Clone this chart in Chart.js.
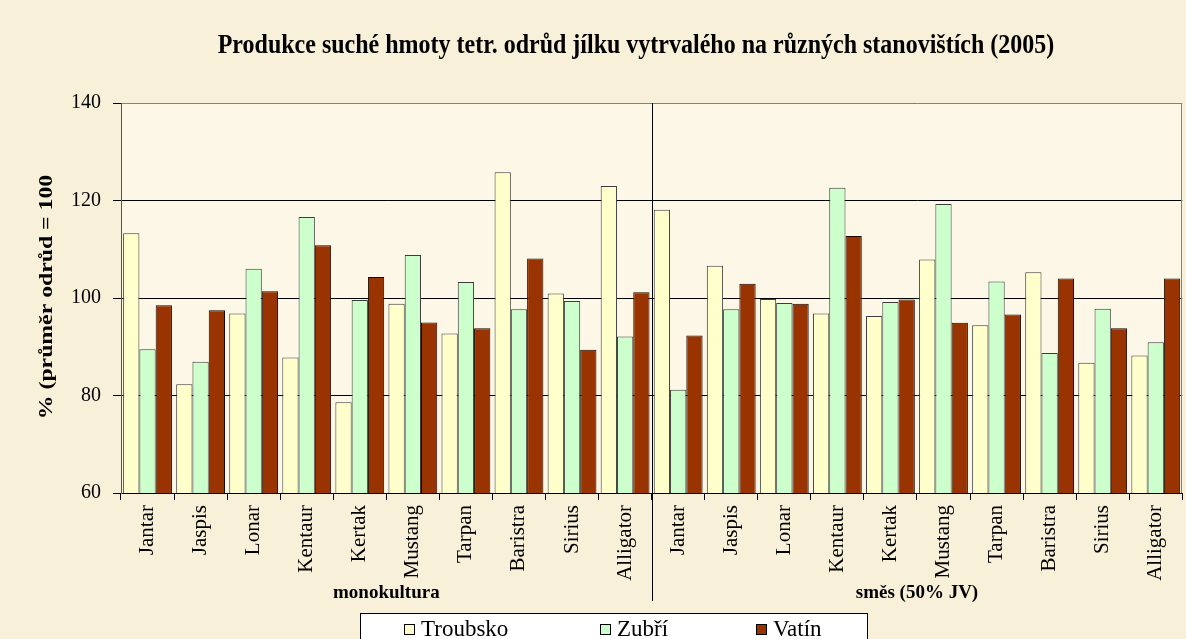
<!DOCTYPE html>
<html>
<head>
<meta charset="utf-8">
<script src="https://cdn.jsdelivr.net/npm/chart.js@4.4.1/dist/chart.umd.min.js"></script>
<style>
  html, body { margin: 0; padding: 0; background: #F8F0D8; }
  #wrap { width: 1186px; height: 639px; position: relative; }
  canvas { display: block; }
</style>
</head>
<body>
<div id="wrap"><canvas id="c" width="1186" height="639"></canvas></div>
<script>
const chartTitle = 'Produkce suché hmoty tetr. odrůd jílku vytrvalého na různých stanovištích (2005)';
const yAxisTitle = '% (průměr odrůd = 100';
const varieties = ['Jantar', 'Jaspis', 'Lonar', 'Kentaur', 'Kertak', 'Mustang', 'Tarpan', 'Baristra', 'Sirius', 'Alligator'];
const groups = ['monokultura', 'směs (50% JV)'];
const categories = varieties.concat(varieties);
const seriesNames = ['Troubsko', 'Zubří', 'Vatín'];
const troubsko = [113.3, 82.3, 96.8, 87.8, 78.6, 98.8, 92.7, 125.8, 100.9, 123.0,
                  118.1, 106.6, 99.8, 96.8, 96.3, 107.9, 94.4, 105.3, 86.7, 88.2];
const zubri    = [89.5, 86.9, 106.0, 116.6, 99.6, 108.8, 103.3, 97.7, 99.4, 92.1,
                  81.2, 97.7, 99.0, 122.6, 99.2, 119.3, 103.4, 88.7, 97.8, 90.9];
const vatin    = [98.5, 97.5, 101.4, 110.8, 104.3, 95.0, 93.8, 108.1, 89.4, 101.2,
                  92.3, 102.9, 98.8, 112.7, 99.7, 94.9, 96.6, 104.0, 93.8, 104.0];
const yTicks = [60, 80, 100, 120, 140];

const fills = ['#FFFFCC', '#CCFFCC', '#993300'];
const borders = ['#3c3c3c', '#3c3c3c', '#1a0800'];
const SERIF = '"Liberation Serif", "Times New Roman", serif';

const decor = {
  id: 'decor',
  beforeDraw(chart) {
    const { ctx, chartArea: a } = chart;
    ctx.save();
    ctx.fillStyle = '#FCF7E6';
    ctx.fillRect(a.left, a.top, a.right - a.left, a.bottom - a.top);
    ctx.restore();
  },
  afterDraw(chart) {
    const { ctx, chartArea: a, scales } = chart;
    const xs = scales.x;
    ctx.save();
    // right border of plot
    ctx.strokeStyle = '#808080';
    ctx.lineWidth = 1;
    ctx.beginPath();
    ctx.moveTo(Math.round(a.right) - 0.5, a.top);
    ctx.lineTo(Math.round(a.right) - 0.5, a.bottom);
    ctx.stroke();
    // group divider
    const half = varieties.length;
    const xd = Math.round((xs.getPixelForValue(half - 1) + xs.getPixelForValue(half)) / 2) + 0.5;
    ctx.strokeStyle = '#000';
    ctx.beginPath();
    ctx.moveTo(xd, a.top);
    ctx.lineTo(xd, 601);
    ctx.stroke();
    // group labels
    ctx.fillStyle = '#000';
    ctx.font = 'bold 19px ' + SERIF;
    ctx.textAlign = 'center';
    ctx.textBaseline = 'middle';
    groups.forEach((g, i) => {
      const c = (xs.getPixelForValue(i * half) + xs.getPixelForValue(i * half + half - 1)) / 2;
      ctx.fillText(g, c, 593);
    });
    // title (slightly tall lettering as in the original)
    ctx.save();
    ctx.translate(636, 46);
    ctx.scale(1, 1.15);
    ctx.font = 'bold 24px ' + SERIF;
    ctx.fillText(chartTitle, 0, 0);
    ctx.restore();
    // y axis title
    ctx.save();
    ctx.translate(47, 297);
    ctx.rotate(-Math.PI / 2);
    ctx.scale(1.25, 1);
    ctx.font = 'bold 19px ' + SERIF;
    ctx.fillText(yAxisTitle, 0, 0);
    ctx.restore();
    // legend
    const lx0 = 360, lx1 = 868, ly0 = 613;
    ctx.fillStyle = '#FFFFFF';
    ctx.fillRect(lx0, ly0, lx1 - lx0, 40);
    ctx.strokeStyle = '#000';
    ctx.strokeRect(lx0 + 0.5, ly0 + 0.5, lx1 - lx0 - 1, 40);
    const itemX = [404, 600, 756];
    ctx.font = '23px ' + SERIF;
    ctx.textAlign = 'left';
    ctx.textBaseline = 'middle';
    chart.data.datasets.forEach((ds, i) => {
      const sx = itemX[i], sy = 624;
      ctx.fillStyle = ds.backgroundColor;
      ctx.fillRect(sx, sy, 11, 11);
      ctx.strokeStyle = '#000';
      ctx.strokeRect(sx + 0.5, sy + 0.5, 10, 10);
      ctx.fillStyle = '#000';
      ctx.fillText(ds.label, sx + 17, sy + 6);
    });
    ctx.restore();
  }
};

new Chart(document.getElementById('c'), {
  type: 'bar',
  data: {
    labels: categories,
    datasets: [troubsko, zubri, vatin].map((d, i) => ({
      label: seriesNames[i],
      data: d,
      backgroundColor: fills[i],
      borderColor: borders[i],
      borderWidth: 1,
      borderSkipped: 'bottom',
      categoryPercentage: 0.92,
      barPercentage: 1.0
    }))
  },
  options: {
    responsive: false,
    devicePixelRatio: 1,
    animation: false,
    layout: { padding: { top: 103, right: 2, bottom: 0, left: 0 } },
    plugins: { legend: { display: false }, title: { display: false }, tooltip: { enabled: false } },
    scales: {
      x: {
        afterFit(s) { s.height = 146; },
        grid: { offset: true, drawOnChartArea: false, drawTicks: true, tickLength: 7, color: '#000' },
        border: { display: true, color: '#000' },
        ticks: {
          autoSkip: false, minRotation: 90, maxRotation: 90, padding: 5,
          color: '#000', font: { family: SERIF, size: 21 }
        }
      },
      y: {
        min: 60, max: 140,
        afterFit(s) { s.width = 121; },
        afterBuildTicks(s) { s.ticks = yTicks.map(v => ({ value: v })); },
        grid: {
          color: (c) => (c.tick && c.tick.value === 140 ? '#808080' : '#000'),
          tickLength: 8, tickColor: '#000'
        },
        border: { display: true, color: '#555' },
        ticks: { padding: 12, color: '#000', font: { family: SERIF, size: 20 } }
      }
    }
  },
  plugins: [decor]
});
</script>
</body>
</html>
